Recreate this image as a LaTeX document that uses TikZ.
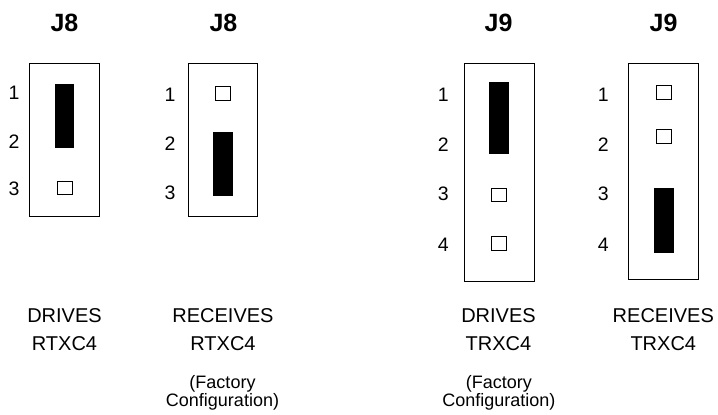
\documentclass[tikz,border=0pt]{standalone}
\usepackage{fontspec}
\setmainfont{Liberation Sans}
\usetikzlibrary{positioning}

\begin{document}
\begin{tikzpicture}[x=1pt, y=-1pt,
header/.style={font=\fontsize{25}{30}\selectfont\bfseries, anchor=base},
pinno/.style={font=\fontsize{19.5}{24}\selectfont},
hdr/.style={rectangle, draw, line width=0.9pt, inner sep=0pt},
jumper/.style={rectangle, fill=black, inner sep=0pt, minimum width=19.5pt},
openpin/.style={rectangle, draw, line width=0.8pt, inner sep=0pt, minimum width=15pt, minimum height=13.5pt},
caption/.style={font=\fontsize{20}{28}\selectfont, align=center, anchor=base},
note/.style={font=\fontsize{18}{18.3}\selectfont, align=center, anchor=base},]
 \useasboundingbox (0,0) rectangle (718,415);

 % J8, drives RTXC4
 \node[header] (ta) at (64.5,31) {J8};
 \node[hdr, minimum width=69.6pt, minimum height=153.4pt] (ja) at (64.5,140) {};
 \node[jumper, minimum height=63.4pt] (ja12) at (64.5,116) {};
 \node[openpin] (ja3) at (64.5,187.7) {};
 \node[pinno] (na1) at (14,92.7) {1};
 \node[pinno] (na2) at (14,141.5) {2};
 \node[pinno] (na3) at (14,188.8) {3};
 \node[caption] (ca) at (64.5,350.7) {DRIVES\\RTXC4};

 % J8, receives RTXC4
 \node[header] (tb) at (223.5,31) {J8};
 \node[hdr, minimum width=69.4pt, minimum height=153.4pt] (jb) at (223,140) {};
 \node[openpin] (jb1) at (223,93.3) {};
 \node[jumper, minimum height=63.4pt] (jb23) at (223,164) {};
 \node[pinno] (nb1) at (170,94.5) {1};
 \node[pinno] (nb2) at (170,143.7) {2};
 \node[pinno] (nb3) at (170,192.8) {3};
 \node[caption] (cb) at (223,350.7) {RECEIVES\\RTXC4};
 \node[note] (fb) at (222.5,406.7) {(Factory\\Configuration)};

 % J9, drives TRXC4
 \node[header] (tc) at (498.5,31) {J9};
 \node[hdr, minimum width=70pt, minimum height=218.4pt] (jc) at (499.3,172.5) {};
 \node[jumper, minimum height=72.3pt] (jc12) at (499.2,117.8) {};
 \node[openpin] (jc3) at (499.2,194.8) {};
 \node[openpin] (jc4) at (499.2,243.3) {};
 \node[pinno] (nc1) at (443.3,94.5) {1};
 \node[pinno] (nc2) at (443.3,144.8) {2};
 \node[pinno] (nc3) at (443.3,194) {3};
 \node[pinno] (nc4) at (443.3,245) {4};
 \node[caption] (cc) at (498.5,350.7) {DRIVES\\TRXC4};
 \node[note] (fc) at (498.8,406.7) {(Factory\\Configuration)};

 % J9, receives TRXC4
 \node[header] (td) at (663.5,31) {J9};
 \node[hdr, minimum width=70pt, minimum height=216pt] (jd) at (663.7,171.3) {};
 \node[openpin] (jd1) at (663.8,92.2) {};
 \node[openpin] (jd2) at (663.8,136.3) {};
 \node[jumper, minimum height=65.6pt] (jd34) at (663.8,220.5) {};
 \node[pinno] (nd1) at (603.3,94.5) {1};
 \node[pinno] (nd2) at (603.3,144.8) {2};
 \node[pinno] (nd3) at (603.3,194) {3};
 \node[pinno] (nd4) at (603.3,245) {4};
 \node[caption] (cd) at (663.3,350.7) {RECEIVES\\TRXC4};

\end{tikzpicture}
\end{document}
